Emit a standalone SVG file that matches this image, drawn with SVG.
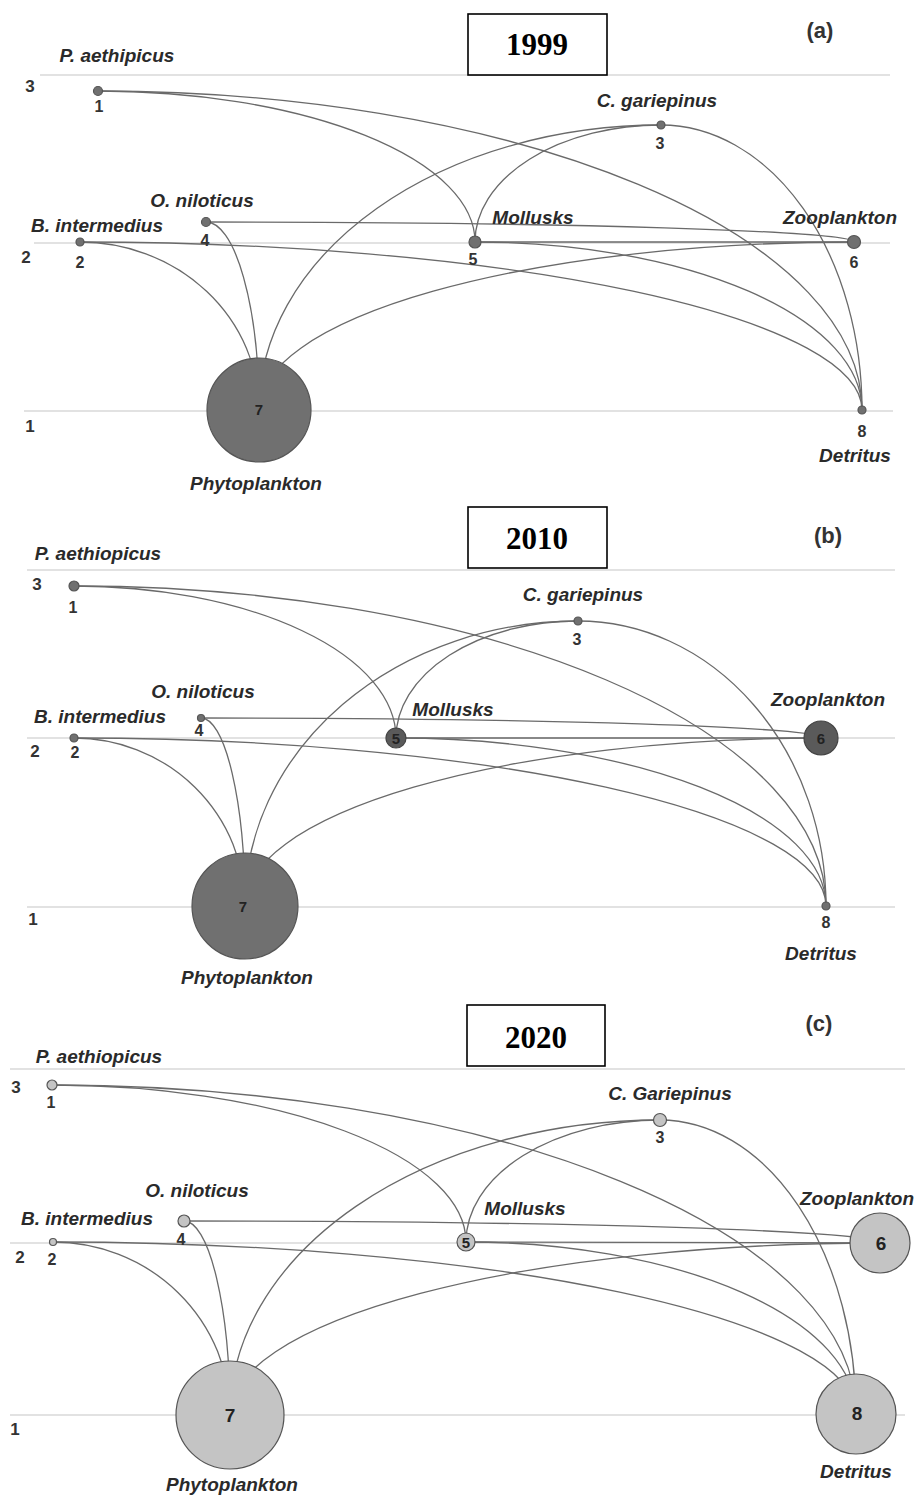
<svg xmlns="http://www.w3.org/2000/svg" width="923" height="1496" viewBox="0 0 923 1496">
<style>
.bg{fill:#ffffff}
.grid{stroke:#e2e2e2;stroke-width:2;fill:none}
.edge{stroke:#6a6a6a;stroke-width:1.3;fill:none}
.nd{fill:#707070;stroke:#555555;stroke-width:1.2}
.ndk{fill:#5a5a5a;stroke:#444444;stroke-width:1.2}
.nl{fill:#c4c4c4;stroke:#555555;stroke-width:1.2}
.lbl{font-family:"Liberation Sans",Arial,sans-serif;font-weight:bold;font-style:italic;font-size:19px;fill:#2a2a2a;text-anchor:middle}
.num{font-family:"Liberation Sans",Arial,sans-serif;font-weight:bold;font-size:16px;fill:#333333;text-anchor:middle}
.in{font-family:"Liberation Sans",Arial,sans-serif;font-weight:bold;font-size:15px;fill:#222222;text-anchor:middle}
.inb{font-family:"Liberation Sans",Arial,sans-serif;font-weight:bold;font-size:19px;fill:#222222;text-anchor:middle}
.lvl{font-family:"Liberation Sans",Arial,sans-serif;font-weight:bold;font-size:17px;fill:#333333;text-anchor:middle}
.pl{font-family:"Liberation Sans",Arial,sans-serif;font-weight:bold;font-size:22px;fill:#333333;text-anchor:middle}
.box{fill:#ffffff;stroke:#000000;stroke-width:1.6}
.yr{font-family:"Liberation Serif","Times New Roman",serif;font-weight:bold;font-size:31px;fill:#000000;text-anchor:middle}
</style>
<rect class="bg" x="0" y="0" width="923" height="1496"/>

<!-- ===== Panel (a) 1999 ===== -->
<g id="panel-a">
  <g id="a-grid">
    <line class="grid" x1="40" y1="75" x2="890" y2="75"/>
    <line class="grid" x1="34" y1="243" x2="890" y2="243"/>
    <line class="grid" x1="24" y1="411" x2="893" y2="411"/>
    <text class="lvl" x="30" y="92">3</text>
    <text class="lvl" x="26" y="263">2</text>
    <text class="lvl" x="30" y="432">1</text>
  </g>
  <g id="a-title">
    <rect class="box" x="468" y="14" width="139" height="61"/>
    <text class="yr" x="537" y="55">1999</text>
    <text class="pl" x="820" y="38">(a)</text>
  </g>
  <g id="a-connectors">
    <path class="edge" d="M98,91 A377,151 0 0 1 475,242"/>
    <path class="edge" d="M98,91 A764,319 0 0 1 862,410"/>
    <path class="edge" d="M80,242 A179,168 0 0 1 259,410"/>
    <path class="edge" d="M80,242 A782,168 0 0 1 862,410"/>
    <path class="edge" d="M661,125 A186,117 0 0 0 475,242"/>
    <path class="edge" d="M661,125 A402,285 0 0 0 259,410"/>
    <path class="edge" d="M661,125 A201,285 0 0 1 862,410"/>
    <path class="edge" d="M206,222 A648,20 0 0 1 854,242"/>
    <path class="edge" d="M206,222 A53,188 0 0 1 259,410"/>
    <path class="edge" d="M475,242 L854,242"/>
    <path class="edge" d="M475,242 A387,168 0 0 1 862,410"/>
    <path class="edge" d="M854,242 A595,168 0 0 0 259,410"/>
  </g>
  <g id="a-n1"><circle class="nd" cx="98" cy="91" r="4.5"/><text class="num" x="99" y="112">1</text><text class="lbl" x="117" y="62">P. aethipicus</text></g>
  <g id="a-n2"><circle class="nd" cx="80" cy="242" r="4"/><text class="num" x="80" y="268">2</text><text class="lbl" x="97" y="232">B. intermedius</text></g>
  <g id="a-n3"><circle class="nd" cx="661" cy="125" r="4"/><text class="num" x="660" y="149">3</text><text class="lbl" x="657" y="107">C. gariepinus</text></g>
  <g id="a-n4"><circle class="nd" cx="206" cy="222" r="4.5"/><text class="num" x="205" y="246">4</text><text class="lbl" x="202" y="207">O. niloticus</text></g>
  <g id="a-n5"><circle class="nd" cx="475" cy="242" r="6"/><text class="num" x="473" y="265">5</text><text class="lbl" x="533" y="224">Mollusks</text></g>
  <g id="a-n6"><circle class="nd" cx="854" cy="242" r="6.5"/><text class="num" x="854" y="268">6</text><text class="lbl" x="840" y="224">Zooplankton</text></g>
  <g id="a-n7"><circle class="nd" cx="259" cy="410" r="52"/><text class="in" x="259" y="415">7</text><text class="lbl" x="256" y="490">Phytoplankton</text></g>
  <g id="a-n8"><circle class="nd" cx="862" cy="410" r="4"/><text class="num" x="862" y="437">8</text><text class="lbl" x="855" y="462">Detritus</text></g>
</g>

<!-- ===== Panel (b) 2010 ===== -->
<g id="panel-b">
  <g id="b-grid">
    <line class="grid" x1="27" y1="570" x2="895" y2="570"/>
    <line class="grid" x1="27" y1="738" x2="895" y2="738"/>
    <line class="grid" x1="27" y1="907" x2="895" y2="907"/>
    <text class="lvl" x="37" y="590">3</text>
    <text class="lvl" x="35" y="757">2</text>
    <text class="lvl" x="33" y="925">1</text>
  </g>
  <g id="b-title">
    <rect class="box" x="468" y="507" width="139" height="61"/>
    <text class="yr" x="537" y="549">2010</text>
    <text class="pl" x="828" y="543">(b)</text>
  </g>
  <g id="b-connectors">
    <path class="edge" d="M74,586 A322,152 0 0 1 396,738"/>
    <path class="edge" d="M74,586 A752,320 0 0 1 826,906"/>
    <path class="edge" d="M74,738 A171,168 0 0 1 245,906"/>
    <path class="edge" d="M74,738 A752,168 0 0 1 826,906"/>
    <path class="edge" d="M578,621 A182,117 0 0 0 396,738"/>
    <path class="edge" d="M578,621 A333,285 0 0 0 245,906"/>
    <path class="edge" d="M578,621 A248,285 0 0 1 826,906"/>
    <path class="edge" d="M201,718 A620,20 0 0 1 821,738"/>
    <path class="edge" d="M201,718 A44,188 0 0 1 245,906"/>
    <path class="edge" d="M396,738 L821,738"/>
    <path class="edge" d="M396,738 A430,168 0 0 1 826,906"/>
    <path class="edge" d="M821,738 A576,168 0 0 0 245,906"/>
  </g>
  <g id="b-n1"><circle class="nd" cx="74" cy="586" r="5"/><text class="num" x="73" y="613">1</text><text class="lbl" x="98" y="560">P. aethiopicus</text></g>
  <g id="b-n2"><circle class="nd" cx="74" cy="738" r="4"/><text class="num" x="75" y="758">2</text><text class="lbl" x="100" y="723">B. intermedius</text></g>
  <g id="b-n3"><circle class="nd" cx="578" cy="621" r="4"/><text class="num" x="577" y="645">3</text><text class="lbl" x="583" y="601">C. gariepinus</text></g>
  <g id="b-n4"><circle class="nd" cx="201" cy="718" r="3.5"/><text class="num" x="199" y="736">4</text><text class="lbl" x="203" y="698">O. niloticus</text></g>
  <g id="b-n5"><circle class="ndk" cx="396" cy="738" r="10"/><text class="in" x="396" y="744">5</text><text class="lbl" x="453" y="716">Mollusks</text></g>
  <g id="b-n6"><circle class="ndk" cx="821" cy="738" r="17"/><text class="in" x="821" y="744">6</text><text class="lbl" x="828" y="706">Zooplankton</text></g>
  <g id="b-n7"><circle class="nd" cx="245" cy="906" r="53"/><text class="in" x="243" y="912">7</text><text class="lbl" x="247" y="984">Phytoplankton</text></g>
  <g id="b-n8"><circle class="nd" cx="826" cy="906" r="4"/><text class="num" x="826" y="928">8</text><text class="lbl" x="821" y="960">Detritus</text></g>
</g>

<!-- ===== Panel (c) 2020 ===== -->
<g id="panel-c">
  <g id="c-grid">
    <line class="grid" x1="10" y1="1069" x2="905" y2="1069"/>
    <line class="grid" x1="10" y1="1243" x2="905" y2="1243"/>
    <line class="grid" x1="10" y1="1415" x2="905" y2="1415"/>
    <text class="lvl" x="16" y="1093">3</text>
    <text class="lvl" x="20" y="1263">2</text>
    <text class="lvl" x="15" y="1435">1</text>
  </g>
  <g id="c-title">
    <rect class="box" x="467" y="1005" width="138" height="61"/>
    <text class="yr" x="536" y="1048">2020</text>
    <text class="pl" x="819" y="1031">(c)</text>
  </g>
  <g id="c-connectors">
    <path class="edge" d="M52,1085 A414,157 0 0 1 466,1242"/>
    <path class="edge" d="M52,1085 A804,329 0 0 1 856,1414"/>
    <path class="edge" d="M53,1242 A177,173 0 0 1 230,1415"/>
    <path class="edge" d="M53,1242 A803,172 0 0 1 856,1414"/>
    <path class="edge" d="M660,1120 A194,122 0 0 0 466,1242"/>
    <path class="edge" d="M660,1120 A430,295 0 0 0 230,1415"/>
    <path class="edge" d="M660,1120 A196,294 0 0 1 856,1414"/>
    <path class="edge" d="M184,1221 A696,22 0 0 1 880,1243"/>
    <path class="edge" d="M184,1221 A46,194 0 0 1 230,1415"/>
    <path class="edge" d="M466,1242 L880,1243"/>
    <path class="edge" d="M466,1242 A390,172 0 0 1 856,1414"/>
    <path class="edge" d="M880,1243 A650,172 0 0 0 230,1415"/>
  </g>
  <g id="c-n1"><circle class="nl" cx="52" cy="1085" r="5"/><text class="num" x="51" y="1108">1</text><text class="lbl" x="99" y="1063">P. aethiopicus</text></g>
  <g id="c-n2"><circle class="nl" cx="53" cy="1242" r="3.5"/><text class="num" x="52" y="1265">2</text><text class="lbl" x="87" y="1225">B. intermedius</text></g>
  <g id="c-n3"><circle class="nl" cx="660" cy="1120" r="6.5"/><text class="num" x="660" y="1143">3</text><text class="lbl" x="670" y="1100">C. Gariepinus</text></g>
  <g id="c-n4"><circle class="nl" cx="184" cy="1221" r="6"/><text class="num" x="181" y="1245">4</text><text class="lbl" x="197" y="1197">O. niloticus</text></g>
  <g id="c-n5"><circle class="nl" cx="466" cy="1242" r="9"/><text class="in" x="466" y="1248">5</text><text class="lbl" x="525" y="1215">Mollusks</text></g>
  <g id="c-n6"><circle class="nl" cx="880" cy="1243" r="30"/><text class="inb" x="881" y="1250">6</text><text class="lbl" x="857" y="1205">Zooplankton</text></g>
  <g id="c-n7"><circle class="nl" cx="230" cy="1415" r="54"/><text class="inb" x="230" y="1422">7</text><text class="lbl" x="232" y="1491">Phytoplankton</text></g>
  <g id="c-n8"><circle class="nl" cx="856" cy="1414" r="40"/><text class="inb" x="857" y="1420">8</text><text class="lbl" x="856" y="1478">Detritus</text></g>
</g>
</svg>
